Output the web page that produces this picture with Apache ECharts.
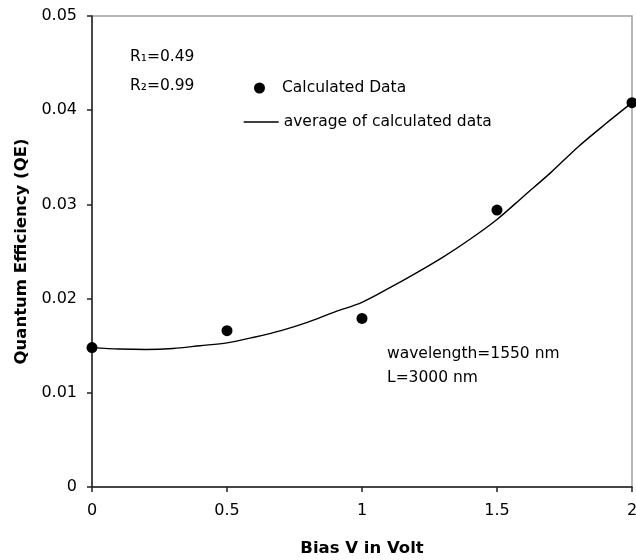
<!DOCTYPE html>
<html>
<head>
<meta charset="utf-8">
<script src="https://cdn.jsdelivr.net/npm/echarts@6/dist/echarts.min.js"></script>
<style>
  html, body { margin: 0; padding: 0; background: #fff; }
  #chart { width: 636px; height: 560px; }
</style>
</head>
<body>
<div id="chart"></div>
<script>
// ---- data ----
const xCalc  = [0, 0.5, 1, 1.5, 2];
const qeCalc = [0.0148, 0.0166, 0.0179, 0.0294, 0.0408];

const xAvg  = [0, 0.1, 0.2, 0.3, 0.4, 0.5, 0.6, 0.7, 0.8, 0.9, 1.0,
               1.1, 1.2, 1.3, 1.4, 1.5, 1.6, 1.7, 1.8, 1.9, 2.0];
const qeAvg = [0.0148, 0.01465, 0.0146, 0.0147, 0.0150, 0.0153, 0.0159, 0.0166, 0.0175, 0.0186, 0.0196,
               0.0211, 0.0227, 0.0244, 0.0263, 0.0284, 0.0309, 0.0334, 0.0361, 0.0385, 0.0408];

const xTicks = [0, 0.5, 1, 1.5, 2];
const yTicks = [0, 0.01, 0.02, 0.03, 0.04, 0.05];

const seriesNames = ['Calculated Data', 'average of calculated data'];
const xTitle = 'Bias V in Volt';
const yTitle = 'Quantum Efficiency (QE)';
const noteR  = ['R\u2081=0.49', 'R\u2082=0.99'];
const noteWL = ['wavelength=1550 nm', 'L=3000 nm'];

// ---- chart ----
const FONT = 'DejaVu Sans';
const chart = echarts.init(document.getElementById('chart'), null, { renderer: 'canvas' });

const calcData = xCalc.map((x, i) => [x, qeCalc[i]]);
const avgData  = xAvg.map((x, i) => [x, qeAvg[i]]);

function noteText(text, left, top) {
  return {
    type: 'text', left: left, top: top, z: 10,
    style: { text: text, fill: '#000', font: '15.5px "' + FONT + '"' }
  };
}

const option = {
  backgroundColor: '#fff',
  animation: false,
  grid: {
    left: 92, right: 4, top: 16, bottom: 73,
    containLabel: false, outerBoundsMode: 'none',
    show: true, borderColor: '#a0a0a0', borderWidth: 1.5, backgroundColor: 'transparent'
  },
  legend: [
    {
      data: [{ name: seriesNames[0], icon: 'circle', itemStyle: { color: '#000', opacity: 1 } }],
      left: 254, top: 80, padding: 0, itemWidth: 35, itemHeight: 11,
      textStyle: { fontFamily: FONT, fontSize: 15.5, color: '#000' },
      itemGap: 0, selectedMode: false
    },
    {
      data: [{ name: seriesNames[1], itemStyle: { opacity: 0 } }],
      left: 243, top: 114, padding: 0, itemWidth: 35, itemHeight: 14,
      lineStyle: { color: '#000', width: 1.4 },
      textStyle: { fontFamily: FONT, fontSize: 15.5, color: '#000' },
      itemGap: 0, selectedMode: false
    }
  ],
  xAxis: {
    type: 'value',
    min: xTicks[0], max: xTicks[xTicks.length - 1], interval: xTicks[1] - xTicks[0],
    name: xTitle, nameLocation: 'middle', nameGap: 53,
    nameTextStyle: { fontFamily: FONT, fontSize: 16.5, fontWeight: 'bold', color: '#000' },
    axisLine: { show: true, onZero: false, lineStyle: { color: '#222', width: 1.5 } },
    axisTick: { show: true, inside: false, length: 5, lineStyle: { color: '#222', width: 1.5 } },
    axisLabel: { fontFamily: FONT, fontSize: 16, color: '#000', margin: 16,
                 formatter: v => String(v) },
    splitLine: { show: false }
  },
  yAxis: {
    type: 'value',
    min: yTicks[0], max: yTicks[yTicks.length - 1], interval: yTicks[1] - yTicks[0],
    name: yTitle, nameLocation: 'middle', nameGap: 60, nameRotate: 90,
    nameTextStyle: { fontFamily: FONT, fontSize: 16.5, fontWeight: 'bold', color: '#000' },
    axisLine: { show: true, onZero: false, lineStyle: { color: '#222', width: 1.5 } },
    axisTick: { show: true, inside: false, length: 5, lineStyle: { color: '#222', width: 1.5 } },
    axisLabel: { fontFamily: FONT, fontSize: 16, color: '#000', margin: 15,
                 formatter: v => String(+v.toFixed(4)) },
    splitLine: { show: false }
  },
  series: [
    {
      name: seriesNames[1],
      type: 'line',
      data: avgData,
      symbol: 'none',
      smooth: 0.3,
      lineStyle: { color: '#000', width: 1.4 },
      itemStyle: { color: '#000' },
      z: 2
    },
    {
      name: seriesNames[0],
      type: 'scatter',
      data: calcData,
      symbol: 'circle',
      symbolSize: 11,
      itemStyle: { color: '#000', opacity: 1 },
      clip: false,
      z: 3
    }
  ],
  graphic: [
    noteText(noteR[0], 130, 49),
    noteText(noteR[1], 130, 78),
    noteText(noteWL[0], 387, 346),
    noteText(noteWL[1], 387, 370)
  ]
};

chart.setOption(option);
</script>
</body>
</html>
